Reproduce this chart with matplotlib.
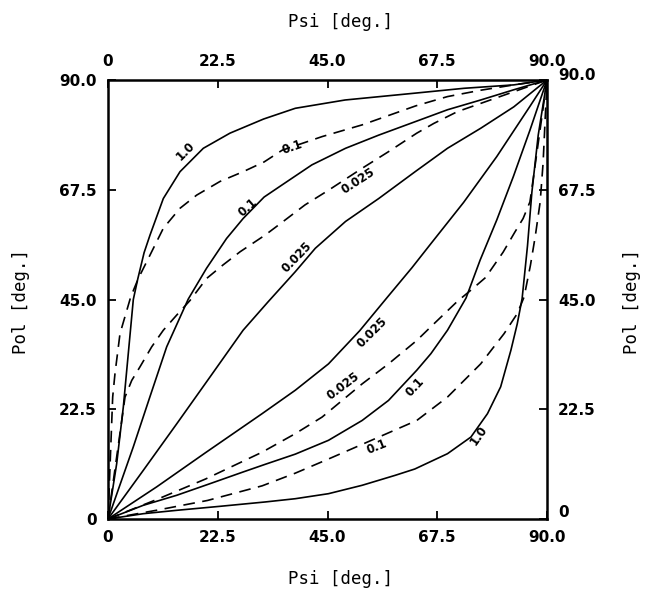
import numpy as np
import matplotlib.pyplot as plt
from matplotlib.transforms import ScaledTranslation

# Psi / Pol in deg
# upper family (Pol > Psi)
psi_s10_up = [0, 1.78, 3.14, 5.19, 6.1, 7.4, 8.61, 11.34, 14.76, 19.54, 25.0, 31.9, 38.4, 48.6, 62.9, 73.0, 83.2, 90]
pol_s10_up = [0, 11.34, 22.96, 45.0, 49.2, 54.6, 58.2, 65.7, 71.2, 76.0, 79.1, 82.0, 84.2, 85.9, 87.3, 88.3, 89.0, 90]

psi_d01_up = [0, 0.96, 1.43, 2.46, 4.65, 6.21, 8.61, 11.34, 14.76, 18.18, 22.96, 27.7, 32.0, 35.7, 43.9, 52.1, 63.1, 69.6, 76.4, 83.2, 90]
pol_d01_up = [0, 25.0, 29.8, 38.0, 45.5, 49.3, 54.1, 59.6, 63.7, 66.4, 69.2, 71.2, 73.2, 75.6, 78.4, 80.8, 84.7, 86.6, 87.9, 89.0, 90]

psi_s01_up = [0, 5.19, 8.61, 12.03, 16.46, 20.2, 24.3, 27.7, 32.0, 35.7, 41.8, 48.7, 55.5, 63.1, 69.6, 76.4, 83.2, 90]
pol_s01_up = [0, 14.8, 25.1, 35.3, 45.1, 51.4, 57.5, 61.6, 66.0, 68.5, 72.6, 76.0, 78.7, 81.5, 83.9, 85.9, 88.0, 90]

psi_d0025_up = [0, 3.49, 4.86, 6.56, 8.96, 11.34, 14.08, 16.81, 20.2, 23.6, 27.1, 32.2, 35.0, 40.4, 45.2, 52.1, 57.5, 63.3, 66.8, 71.6, 76.4, 83.2, 90]
pol_d0025_up = [0, 25.0, 28.4, 31.2, 35.3, 38.7, 41.8, 44.8, 49.3, 52.1, 54.8, 58.2, 60.3, 64.4, 67.4, 71.9, 75.3, 79.1, 81.1, 83.5, 85.2, 87.6, 90]

psi_s0025_up = [0, 7.24, 14.08, 20.9, 27.7, 32.8, 38.4, 42.5, 48.7, 55.5, 63.1, 69.6, 76.4, 83.2, 90]
pol_s0025_up = [0, 9.98, 19.5, 29.1, 38.7, 44.5, 50.7, 55.5, 61.0, 65.7, 71.3, 76.0, 80.1, 84.5, 90]

# lower family (Pol < Psi)
psi_s10_lo = [0, 7.24, 14.08, 22.96, 32.2, 38.4, 45.2, 52.1, 58.9, 62.9, 69.6, 74.4, 77.8, 80.5, 82.6, 83.9, 84.9, 86.0, 86.9, 88.2, 90]
pol_s10_lo = [0, 1.09, 1.78, 2.60, 3.49, 4.16, 5.19, 6.91, 8.96, 10.25, 13.39, 16.8, 21.6, 27.1, 34.6, 40.0, 45.2, 56.0, 67.0, 78.7, 90]

psi_d01_lo = [0, 10.0, 20.4, 31.6, 38.4, 45.2, 52.1, 63.3, 69.6, 76.4, 81.2, 83.9, 85.3, 86.6, 87.6, 88.6, 89.2, 90]
pol_d01_lo = [0, 1.8, 3.8, 6.8, 9.4, 12.3, 15.3, 20.2, 25.0, 31.8, 38.0, 42.1, 45.5, 52.0, 58.0, 65.0, 73.0, 90]

psi_s01_lo = [0, 7.24, 14.08, 20.9, 27.7, 32.2, 38.4, 45.2, 52.1, 57.5, 63.3, 66.2, 69.6, 73.4, 76.3, 79.7, 83.1, 86.5, 90]
pol_s01_lo = [0, 2.81, 4.86, 7.24, 9.64, 11.2, 13.3, 16.13, 20.2, 24.3, 30.5, 33.9, 38.7, 45.3, 53.1, 61.3, 70.2, 79.7, 90]

psi_d0025_lo = [0, 10.0, 20.0, 31.6, 38.4, 43.9, 52.1, 57.5, 63.3, 66.8, 71.6, 74.5, 77.4, 81.0, 83.4, 85.1, 86.5, 87.3, 90]
pol_d0025_lo = [0, 4.0, 8.2, 13.7, 17.5, 20.9, 27.7, 31.8, 36.6, 40.0, 44.6, 47.0, 49.5, 54.7, 58.8, 61.6, 65.0, 70.6, 90]

psi_s0025_lo = [0, 10.0, 20.0, 31.6, 38.4, 45.2, 51.6, 57.3, 62.3, 66.0, 72.9, 79.7, 86.5, 90]
pol_s0025_lo = [0, 6.6, 13.6, 21.6, 26.4, 31.8, 38.6, 45.5, 51.5, 56.2, 64.9, 74.3, 84.6, 90]

ticks = [0, 22.5, 45, 67.5, 90]
tick_labels = ['0', '22.5', '45.0', '67.5', '90.0']

fig = plt.figure(figsize=(6.45, 6.01), dpi=100)
ax = fig.add_axes([108/645, 82/601, 439/645, 439/601])

solid = dict(color='black', lw=1.2, ls='-')
dashed = dict(color='black', lw=1.2, ls=(0, (7, 4.5)))

ax.plot(psi_s10_up, pol_s10_up, **solid)
ax.plot(psi_d01_up, pol_d01_up, **dashed)
ax.plot(psi_s01_up, pol_s01_up, **solid)
ax.plot(psi_d0025_up, pol_d0025_up, **dashed)
ax.plot(psi_s0025_up, pol_s0025_up, **solid)
ax.plot(psi_s10_lo, pol_s10_lo, **solid)
ax.plot(psi_d01_lo, pol_d01_lo, **dashed)
ax.plot(psi_s01_lo, pol_s01_lo, **solid)
ax.plot(psi_d0025_lo, pol_d0025_lo, **dashed)
ax.plot(psi_s0025_lo, pol_s0025_lo, **solid)

# curve labels: text, psi, pol, angle
curve_labels = [
    ('1.0', 16.0, 75.4, 45),
    ('0.1', 37.7, 76.3, 19),
    ('0.1', 28.7, 63.8, 42),
    ('0.025', 51.2, 69.3, 33),
    ('0.025', 38.7, 53.7, 46),
    ('0.025', 54.1, 38.2, 45),
    ('0.025', 48.2, 27.3, 37),
    ('0.1', 62.9, 27.1, 47),
    ('0.1', 55.2, 14.8, 22),
    ('1.0', 76.1, 17.2, 55),
]
for txt, x, y, rot in curve_labels:
    ax.text(x, y, txt, rotation=rot, ha='center', va='center',
            fontsize=8.5, fontweight='bold', rotation_mode='anchor')

ax.set_xlim(0, 90)
ax.set_ylim(0, 90)
ax.set_xticks(ticks)
ax.set_yticks(ticks)
ax.set_xticklabels(tick_labels)
ax.set_yticklabels(tick_labels)
ax.tick_params(direction='in', top=True, right=True, labeltop=True, labelright=True,
               length=6, width=1.3, pad=8, labelsize=11)
for t in ax.xaxis.get_major_ticks() + ax.yaxis.get_major_ticks():
    t.label1.set_fontweight('bold')
    t.label2.set_fontweight('bold')
for sp in ax.spines.values():
    sp.set_linewidth(1.8)

# corner labels on the right side sit a bit off the tick
yt = ax.yaxis.get_major_ticks()
yt[-1].label2.set_transform(yt[-1].label2.get_transform() + ScaledTranslation(0, 0.06, fig.dpi_scale_trans))
yt[0].label2.set_transform(yt[0].label2.get_transform() + ScaledTranslation(0, 0.08, fig.dpi_scale_trans))

lab = dict(fontsize=12.5, family='DejaVu Sans Mono')
fig.text(340/645, 1 - 22/601, 'Psi [deg.]', ha='center', va='center', **lab)
fig.text(340/645, 1 - 579/601, 'Psi [deg.]', ha='center', va='center', **lab)
fig.text(21/645, 1 - 302/601, 'Pol [deg.]', ha='center', va='center', rotation=90, **lab)
fig.text(632/645, 1 - 302/601, 'Pol [deg.]', ha='center', va='center', rotation=90, **lab)

fig.savefig('out.png', dpi=100)
